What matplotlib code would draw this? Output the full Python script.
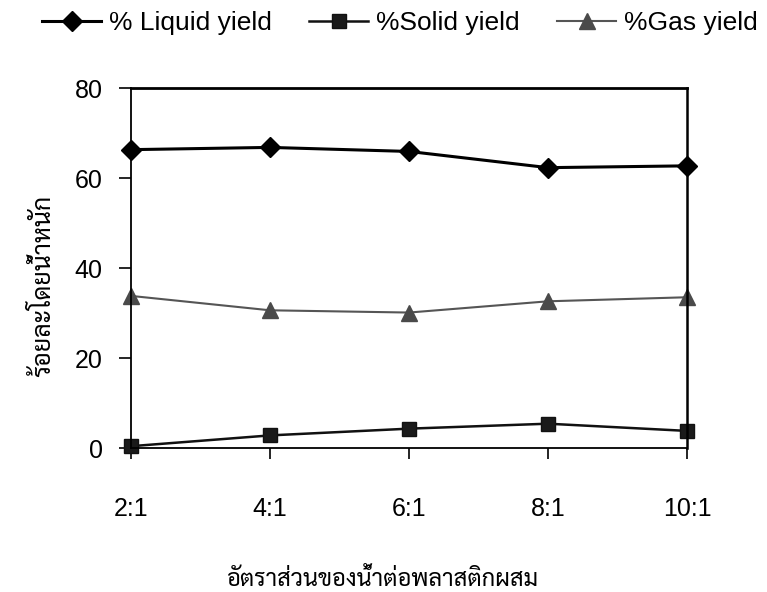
import matplotlib
matplotlib.use('Agg')
import matplotlib.pyplot as plt
from matplotlib import font_manager as fm

ratios = ['2:1', '4:1', '6:1', '8:1', '10:1']
liquid = [66.3, 66.8, 65.9, 62.3, 62.7]
solid = [0.4, 2.8, 4.3, 5.4, 3.8]
gas = [33.8, 30.6, 30.1, 32.6, 33.5]

# pick a font with Thai glyphs
names = {f.name for f in fm.fontManager.ttflist}
thai = next((n for n in ['Sarabun', 'Noto Sans Thai', 'Noto Sans Thai Looped', 'Athiti']
             if n in names), 'DejaVu Sans')
plt.rcParams['font.family'] = ['Liberation Sans', thai]

W, H = 767, 592
fig = plt.figure(figsize=(W / 100, H / 100), dpi=100)
ax = fig.add_axes([131 / W, 1 - 448 / H, (687 - 131) / W, (448 - 88) / H])

x = range(len(ratios))
ax.plot(x, liquid, color='black', lw=2.2, marker='D', ms=10, clip_on=False, label='% Liquid yield')
ax.plot(x, solid, color='#111111', lw=1.8, marker='s', ms=10, mfc='#1a1a1a', clip_on=False,
        label='%Solid yield')
ax.plot(x, gas, color='#555555', lw=1.5, marker='^', ms=11, mfc='#4a4a4a', mec='#4a4a4a',
        clip_on=False, label='%Gas yield')

ax.set_xlim(0, 4)
ax.set_ylim(0, 80)
ax.set_yticks([0, 20, 40, 60, 80])
ax.set_xticks(list(x))
ax.set_xticklabels(ratios)
ax.spines['left'].set_linewidth(1.3)
ax.spines['bottom'].set_linewidth(1.3)
ax.spines['top'].set_linewidth(2.0)
ax.spines['right'].set_linewidth(1.8)
ax.tick_params(axis='y', direction='out', length=8.5, width=1.2, labelsize=18, pad=12)
ax.tick_params(axis='x', direction='out', length=8, width=1.2, labelsize=18, pad=27)

ax.set_ylabel('ร้อยละโดยน้ำหนัก', family=[thai], fontsize=18)
ax.yaxis.set_label_coords(-0.135, 0.45)
ax.set_xlabel('อัตราส่วนของน้ำต่อพลาสติกผสม', family=[thai], fontsize=17)
ax.xaxis.label.set_va('baseline')
ax.xaxis.set_label_coords(0.451, -0.383)

fig.legend(loc='center left', bbox_to_anchor=(42 / W, 1 - 23 / H), ncol=3, frameon=False,
           fontsize=19, handlelength=2.25, handletextpad=0.3, columnspacing=1.4,
           borderpad=0, borderaxespad=0)

fig.savefig('out.png', dpi=100)
